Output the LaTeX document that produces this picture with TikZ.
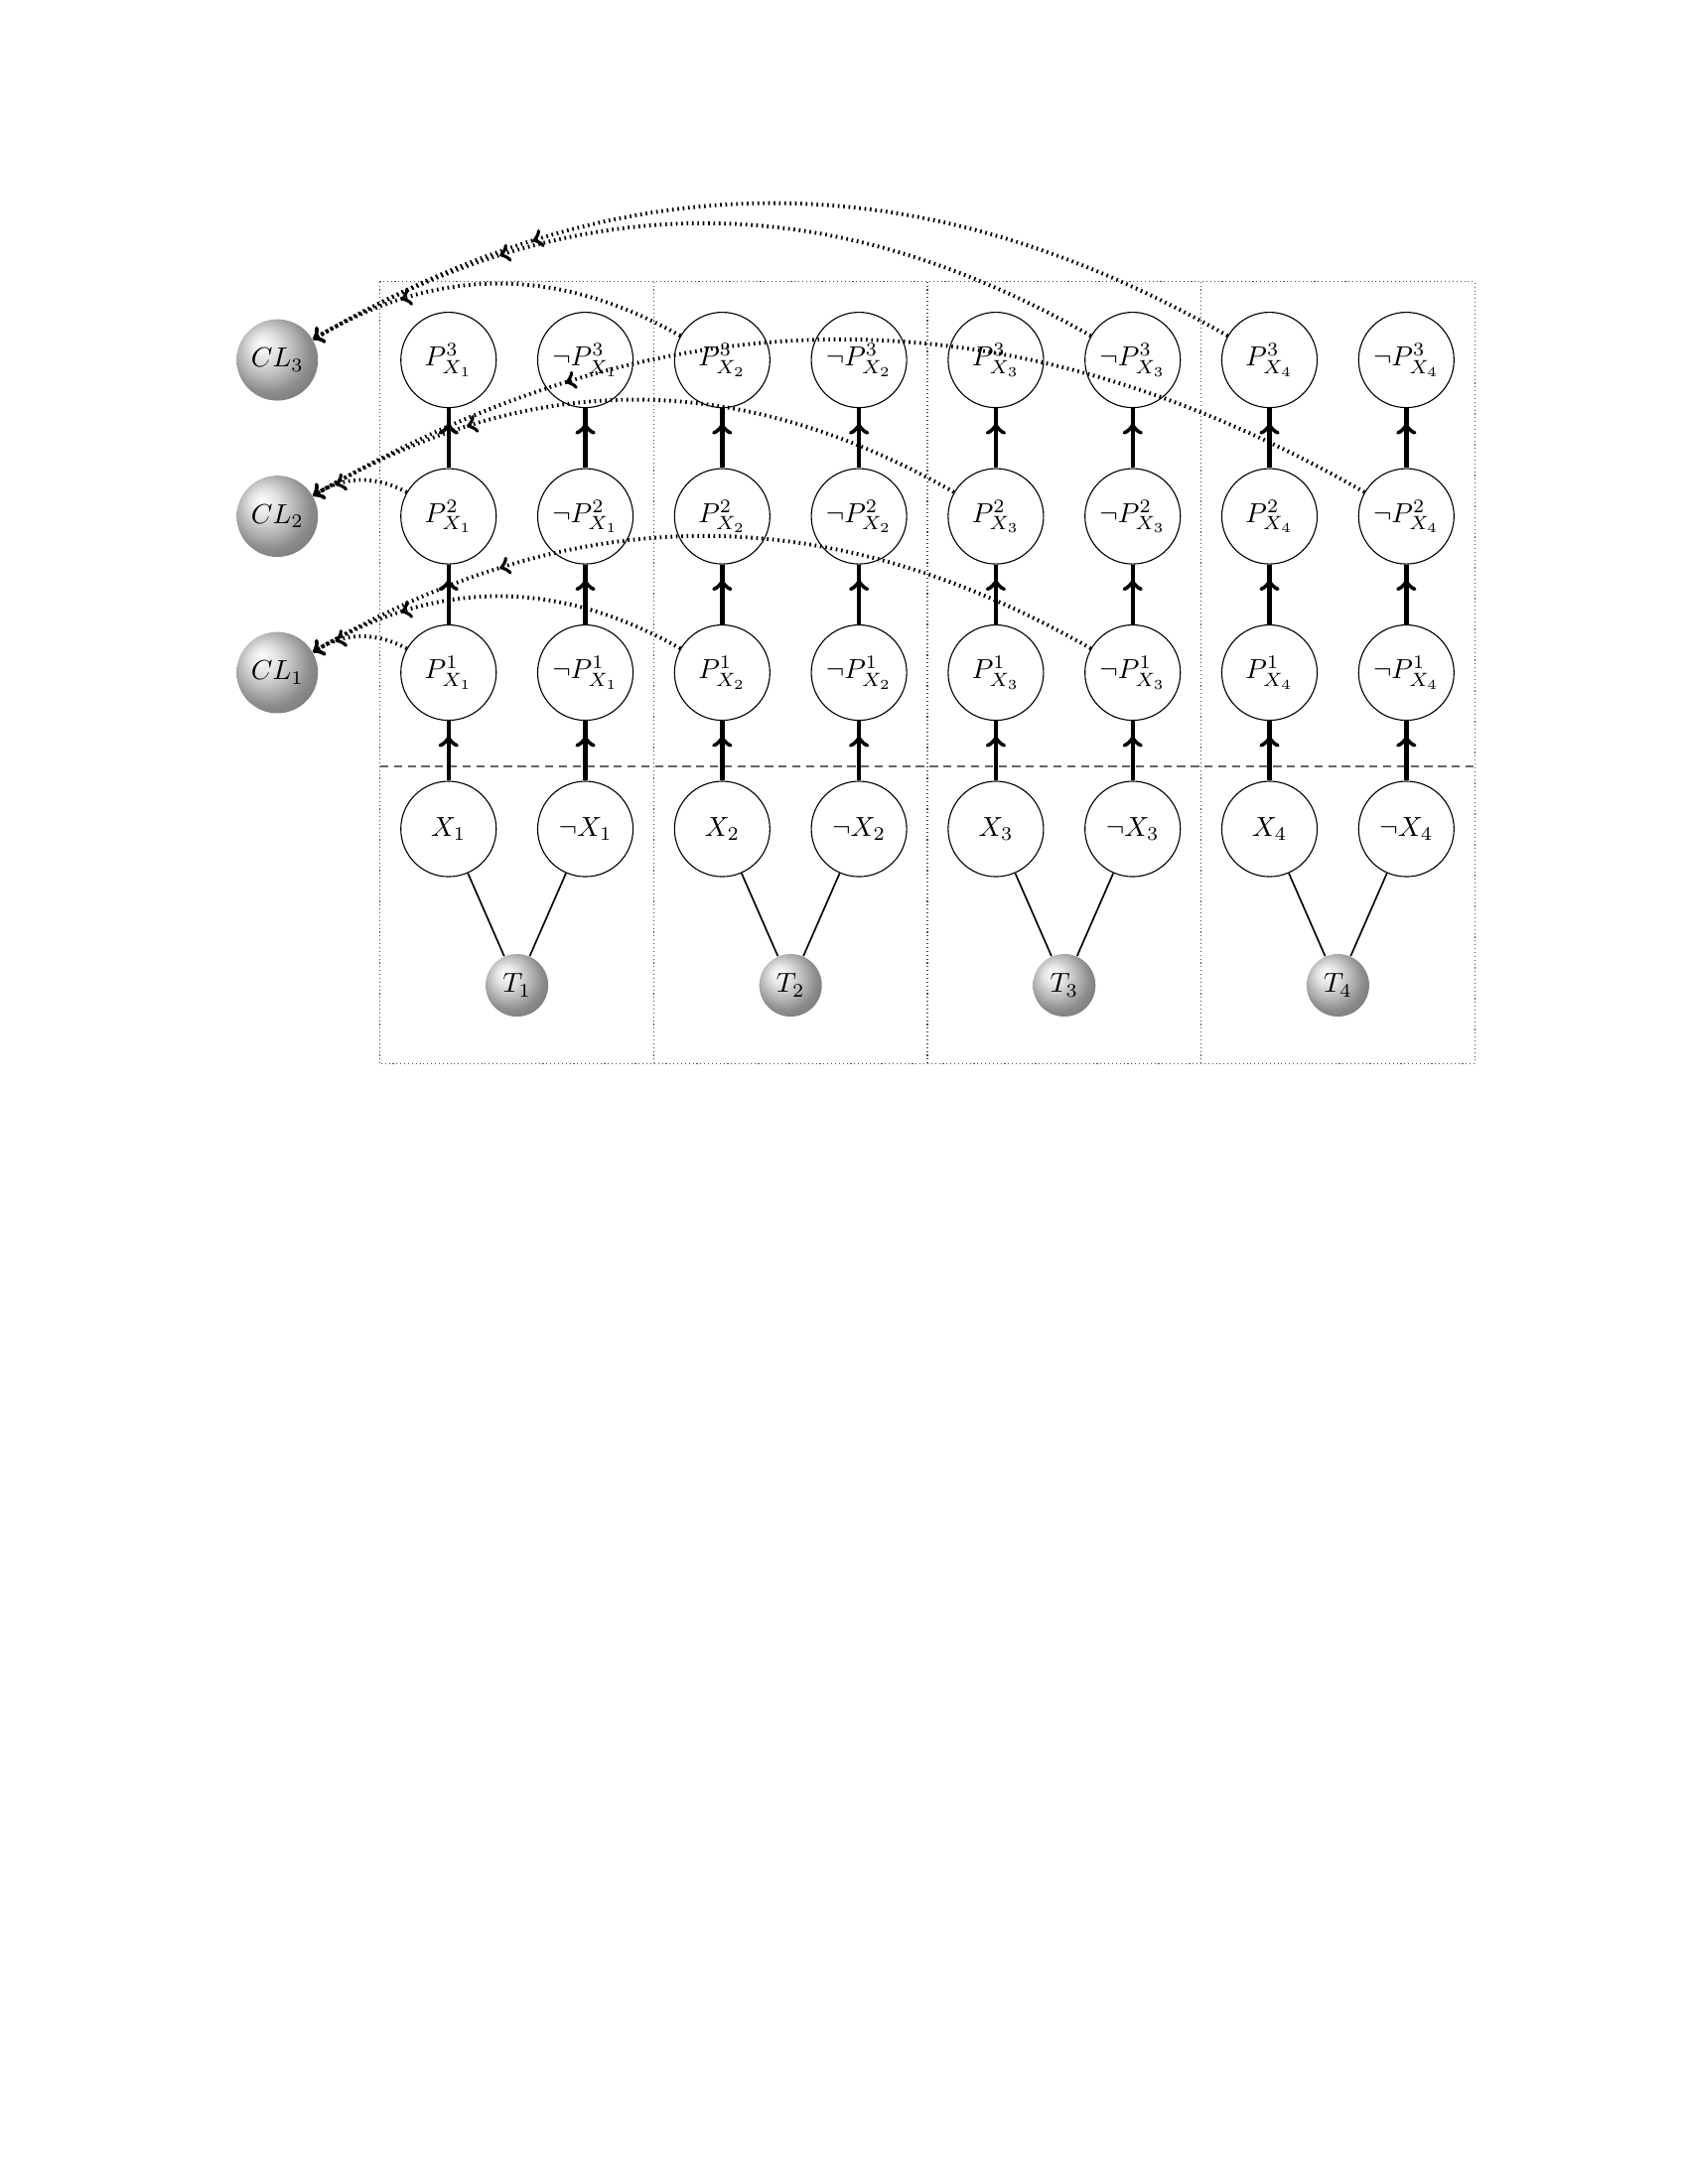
\documentclass[tikz,border=0pt]{standalone}
\usetikzlibrary{decorations.markings}

\pgfdeclareradialshading{lightball}{\pgfpoint{-10bp}{10bp}}{%
  color(0bp)=(white); color(9bp)=(black!12); color(18bp)=(black!30);
  color(25bp)=(black!45); color(50bp)=(black!70)}

\tikzset{
  lit/.style={circle, draw, fill=white, minimum size=1.22cm, inner sep=0pt},
  clausenode/.style={circle, shading=lightball, minimum size=1.04cm, inner sep=0pt},
  truthnode/.style={circle, shading=lightball, minimum size=0.8cm, inner sep=0pt},
  midarrow/.style={postaction={decorate},
    decoration={markings, mark=at position 0.75 with {\arrow{>}}}},
  chain/.style={ultra thick, midarrow},
  occurs/.style={line width=1.4pt, dash pattern=on 0.6pt off 1.35pt, ->, midarrow},
  choice/.style={semithick},
  frame/.style={densely dotted, black!70},
  split/.style={black!60, dash pattern=on 3pt off 2pt}
}

\begin{document}
\begin{tikzpicture}
    \useasboundingbox (-5.737,10.605) rectangle (15.853,-17.335);

    \draw[frame] (-0.875,-3) rectangle (13.125,7);
    \foreach \d in {1,2,3}
        \draw[frame] (-0.875+3.5*\d,-3) -- (-0.875+3.5*\d,7);
    \draw[split] (-0.875,0.8) -- (13.125,0.8);

    \foreach \i in {1,...,4} {
        \pgfmathsetmacro\xx{(\i-1)*3.5}
        \node[lit] (x\i) at (\xx,0) {$X_{\i}$};
        \node[lit] (nx\i) at (\xx+1.75,0) {$\neg X_{\i}$};
        \node[truthnode] (t\i) at (\xx+0.875,-2) {$T_{\i}$};
        \foreach \k in {1,2,3} {
            \node[lit] (p\i-\k) at (\xx,2*\k) {$P^{\k}_{X_{\i}}$};
            \node[lit] (np\i-\k) at (\xx+1.75,2*\k) {$\neg P^{\k}_{X_{\i}}$};
        }
    }
    \foreach \k in {1,2,3}
        \node[clausenode] (cl\k) at (-2.19,2*\k) {$CL_{\k}$};

    \foreach \i in {1,...,4} {
        \draw[chain] (x\i) -- (p\i-1);
        \draw[chain] (p\i-1) -- (p\i-2);
        \draw[chain] (p\i-2) -- (p\i-3);
        \draw[chain] (nx\i) -- (np\i-1);
        \draw[chain] (np\i-1) -- (np\i-2);
        \draw[chain] (np\i-2) -- (np\i-3);
        \draw[choice] (x\i) -- (t\i);
        \draw[choice] (nx\i) -- (t\i);
    }

    \draw[occurs] (p2-3) to[bend right=30] (cl3);
    \draw[occurs] (np3-3) to[bend right=30] (cl3);
    \draw[occurs] (p4-3) to[bend right=30] (cl3);
    \draw[occurs] (p1-2) to[bend right=30] (cl2);
    \draw[occurs] (p3-2) to[bend right=30] (cl2);
    \draw[occurs] (np4-2) to[bend right=30] (cl2);
    \draw[occurs] (p1-1) to[bend right=30] (cl1);
    \draw[occurs] (p2-1) to[bend right=30] (cl1);
    \draw[occurs] (np3-1) to[bend right=30] (cl1);
\end{tikzpicture}
\end{document}
